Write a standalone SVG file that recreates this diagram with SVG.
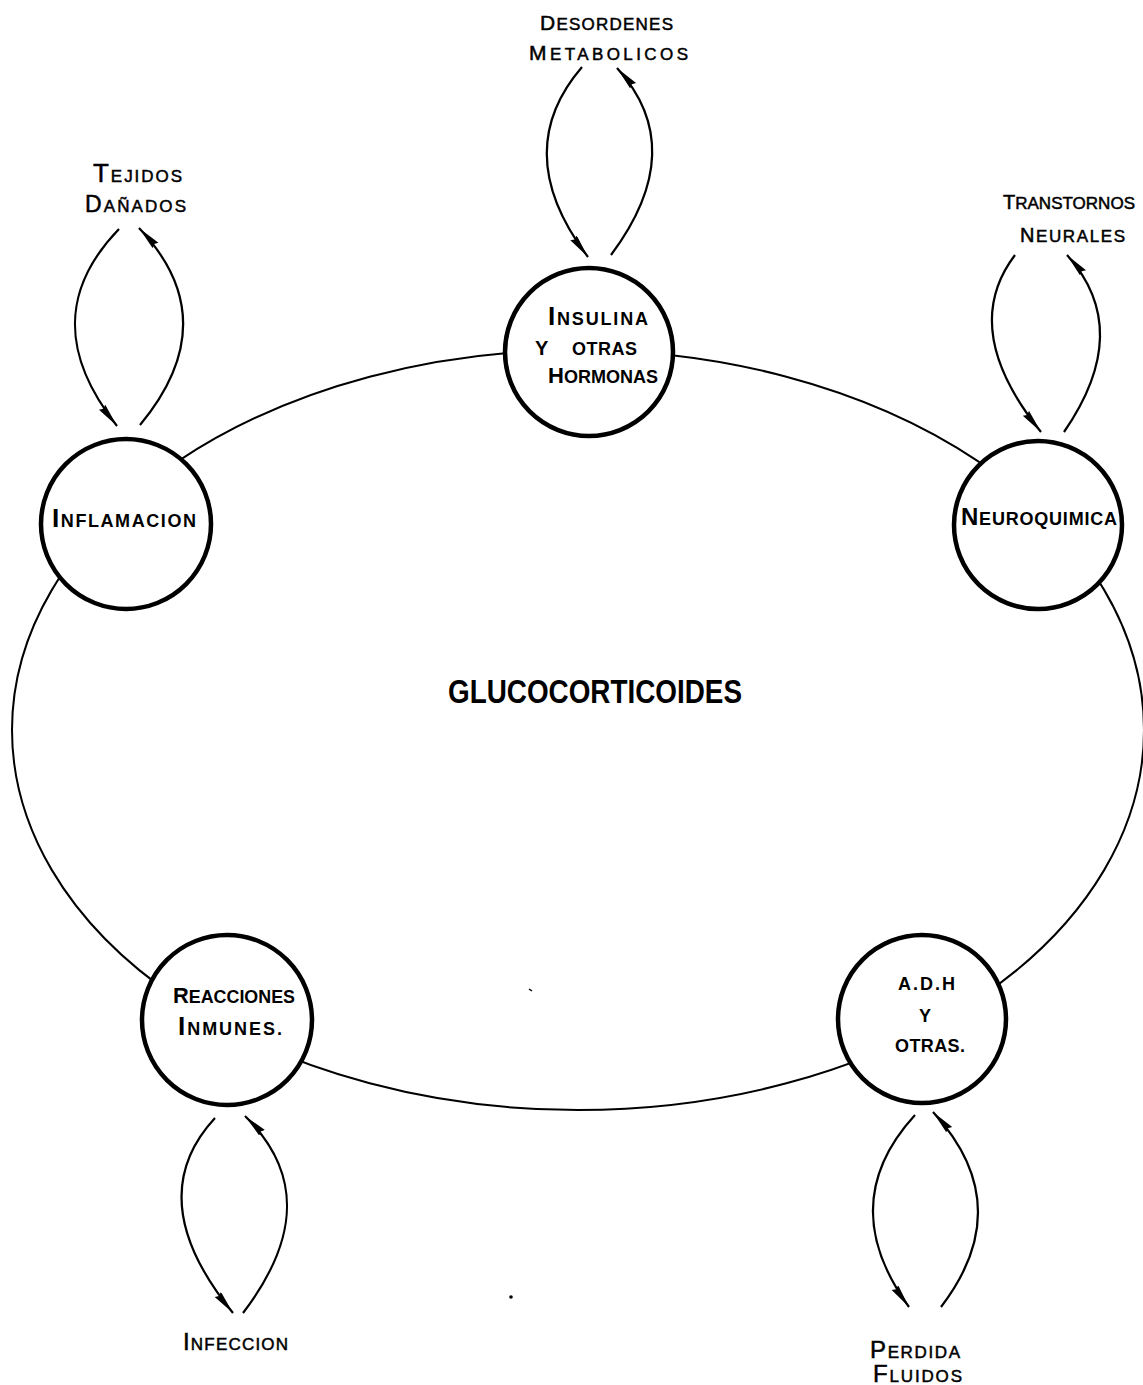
<svg xmlns="http://www.w3.org/2000/svg" width="1143" height="1385" viewBox="0 0 1143 1385">
<style>
.bg{fill:#fff}
.ring{fill:none;stroke:#000;stroke-width:2}
.node circle{fill:#fff;stroke:#000;stroke-width:4.5}
.conn path{fill:none;stroke:#000;stroke-width:2.2;marker-end:url(#ah)}
text{font-family:"Liberation Sans",Arial,sans-serif;fill:#000}
.nl{font-weight:bold;font-size:18px}
.ol{font-size:17px;stroke:#000;stroke-width:0.5}
.title{font-weight:bold;font-size:34px}
</style>
<defs>
<marker id="ah" markerUnits="userSpaceOnUse" markerWidth="26" markerHeight="10" refX="24" refY="4" orient="auto">
<path d="M0,0 L24,4 L0,8 L2,4 Z" fill="#000"/>
</marker>
</defs>
<rect class="bg" x="0" y="0" width="1143" height="1385"/>
<ellipse class="ring" cx="578" cy="730" rx="566" ry="380"/>
<g id="connectors" class="conn">
<path d="M582,67 C533,124 535,187 588,257"/>
<path d="M611,255 C664,184 666,122 617,68"/>
<path d="M119,229 C61,289 60,354 117,426"/>
<path d="M140,425 C198,355 197,289 139,228"/>
<path d="M1015,255 C977,305 986,364 1041,432"/>
<path d="M1064,432 C1111,364 1112,305 1067,255"/>
<path d="M215,1118 C165,1172 171,1237 233,1313"/>
<path d="M243,1313 C301,1237 302,1172 245,1116"/>
<path d="M915,1115 C861,1174 859,1238 909,1307"/>
<path d="M941,1307 C993,1239 990,1174 933,1112"/>
</g>
<g id="insulina" class="node">
<circle cx="589" cy="352" r="84"/>
<text class="nl" x="548" y="325" textLength="100" lengthAdjust="spacing"><tspan font-size="26">I</tspan>NSULINA</text>
<text class="nl" x="535" y="355"><tspan font-size="20">Y</tspan></text>
<text class="nl" x="572" y="355" textLength="65" lengthAdjust="spacing">OTRAS</text>
<text class="nl" x="548" y="383" textLength="110" lengthAdjust="spacingAndGlyphs"><tspan font-size="22">H</tspan>ORMONAS</text>
</g>
<g id="inflamacion" class="node">
<circle cx="126" cy="524" r="85"/>
<text class="nl" x="52" y="527" textLength="144" lengthAdjust="spacing"><tspan font-size="26">I</tspan>NFLAMACION</text>
</g>
<g id="neuroquimica" class="node">
<circle cx="1038" cy="525" r="84"/>
<text class="nl" x="961" y="525" textLength="156" lengthAdjust="spacing"><tspan font-size="24">N</tspan>EUROQUIMICA</text>
</g>
<g id="reacciones" class="node">
<circle cx="227" cy="1020" r="85"/>
<text class="nl" x="173" y="1003" textLength="122" lengthAdjust="spacingAndGlyphs"><tspan font-size="22">R</tspan>EACCIONES</text>
<text class="nl" x="178" y="1035" textLength="104" lengthAdjust="spacing"><tspan font-size="26">I</tspan>NMUNES.</text>
</g>
<g id="adh" class="node">
<circle cx="922" cy="1019" r="84"/>
<text class="nl" x="898" y="990" textLength="57" lengthAdjust="spacing" font-size="20">A.D.H</text>
<text class="nl" x="925" y="1022" text-anchor="middle">Y</text>
<text class="nl" x="895" y="1052" textLength="70" lengthAdjust="spacing">OTRAS.</text>
</g>
<g id="glucocorticoides">
<text class="title" x="448" y="703" textLength="294" lengthAdjust="spacingAndGlyphs">GLUCOCORTICOIDES</text>
</g>
<g id="desordenes">
<text class="ol" x="540" y="30" textLength="133" lengthAdjust="spacing"><tspan font-size="21">D</tspan>ESORDENES</text>
<text class="ol" x="529" y="60" textLength="159" lengthAdjust="spacing"><tspan font-size="21">M</tspan>ETABOLICOS</text>
</g>
<g id="tejidos">
<text class="ol" x="93" y="182" textLength="89" lengthAdjust="spacing"><tspan font-size="26">T</tspan>EJIDOS</text>
<text class="ol" x="85" y="212" textLength="101" lengthAdjust="spacing"><tspan font-size="23">D</tspan>AÑADOS</text>
</g>
<g id="transtornos">
<text class="ol" x="1003" y="209" textLength="132" lengthAdjust="spacingAndGlyphs"><tspan font-size="20">T</tspan>RANSTORNOS</text>
<text class="ol" x="1020" y="242" textLength="105" lengthAdjust="spacing"><tspan font-size="20">N</tspan>EURALES</text>
</g>
<g id="infeccion">
<text class="ol" x="183" y="1350" textLength="105" lengthAdjust="spacing"><tspan font-size="24">I</tspan>NFECCION</text>
</g>
<g id="perdida">
<text class="ol" x="870" y="1358" textLength="90" lengthAdjust="spacing"><tspan font-size="24">P</tspan>ERDIDA</text>
<text class="ol" x="873" y="1382" textLength="89" lengthAdjust="spacing"><tspan font-size="24">F</tspan>LUIDOS</text>
</g>
<circle cx="511" cy="1297" r="1.8" fill="#000"/>
<path d="M529,989 L532,991" stroke="#000" stroke-width="1.5"/>
</svg>
